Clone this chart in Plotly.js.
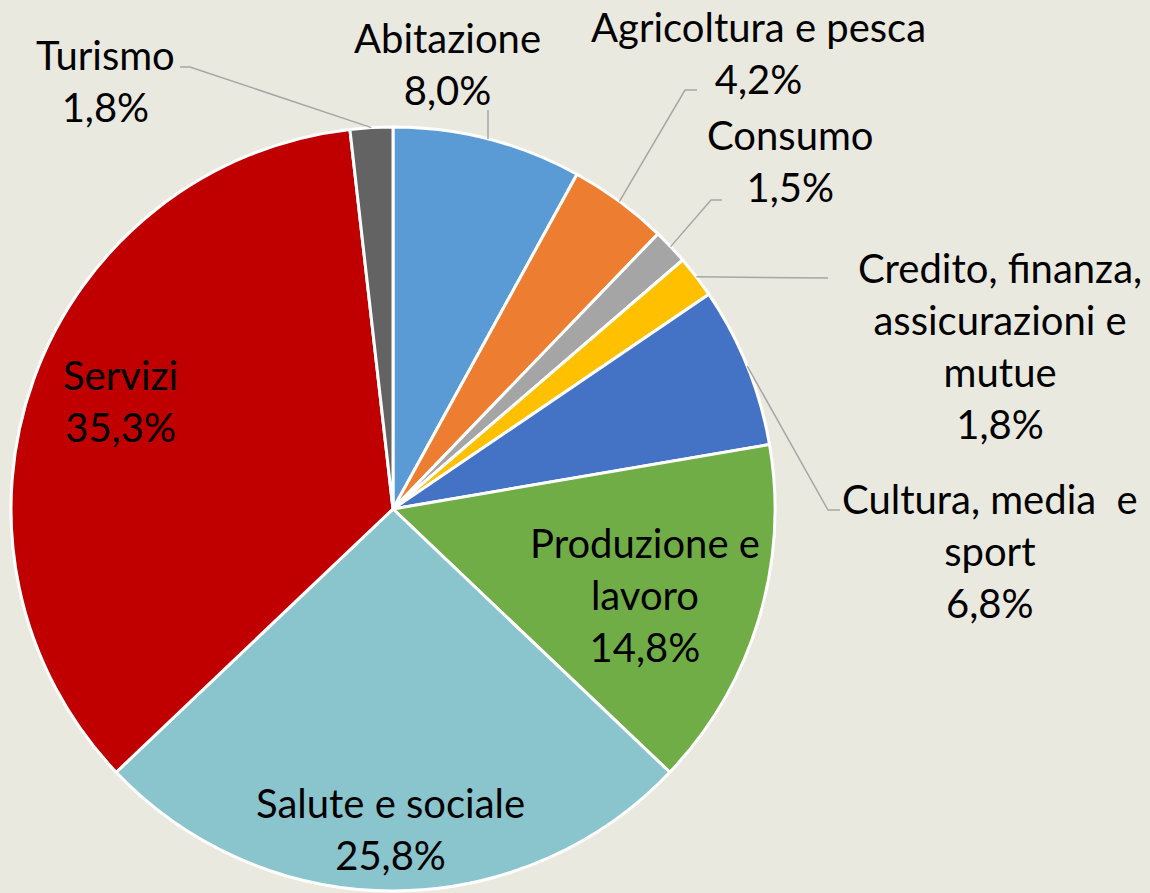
<!DOCTYPE html>
<html>
<head>
<meta charset="utf-8">
<script src="https://cdn.plot.ly/plotly-3.0.1.min.js"></script>
<style>html,body{margin:0;padding:0;background:#EAE9DF;}</style>
</head>
<body>
<div id="chart" style="width:1150px;height:893px;"></div>
<script>
// ---- data ----
const categories = ["Abitazione", "Agricoltura e pesca", "Consumo",
  "Credito, finanza, assicurazioni e mutue", "Cultura, media  e sport",
  "Produzione e lavoro", "Salute e sociale", "Servizi", "Turismo"];
const displayLabels = ["Abitazione", "Agricoltura e pesca", "Consumo",
  "Credito, finanza,<br>assicurazioni e<br>mutue", "Cultura, media  e<br>sport",
  "Produzione e<br>lavoro", "Salute e sociale", "Servizi", "Turismo"];
const shares = [8.0, 4.2, 1.5, 1.8, 6.8, 14.8, 25.8, 35.3, 1.8];
const colors = ["#5B9BD5", "#ED7D31", "#A5A5A5", "#FFC000", "#4472C4",
  "#70AD47", "#8AC5CE", "#C00000", "#636363"];

// ---- layout / style ----
const W = 1150, H = 893;
const CX = 393, CY = 509, R = 382;
// label centre positions (px) and leader line elbow (px); null = inside label
const labelPos = [
  {x: 447, y: 64, elbow: [488, 110]},
  {x: 758, y: 53, elbow: [697, 90, 685, 90]},
  {x: 790, y: 161, elbow: [722, 200, 711, 200]},
  {x: 1000, y: 346, elbow: [828, 278]},
  {x: 990, y: 551, elbow: [840, 510, 828, 510]},
  {x: 645, y: 595, elbow: null},
  {x: 390, y: 829, elbow: null},
  {x: 120, y: 401, elbow: null},
  {x: 105, y: 81, elbow: [180, 67, 190, 67]}
];
const px = x => x / W, py = y => 1 - y / H;
const total = shares.reduce((a, b) => a + b, 0);

const annotations = [], shapes = [];
let cum = 0;
shares.forEach((v, i) => {
  const mid = (cum + v / 2) / total * 2 * Math.PI;
  cum += v;
  const lp = labelPos[i];
  const txt = displayLabels[i] + "<br>" + v.toFixed(1).replace(".", ",") + "%";
  annotations.push({
    x: px(lp.x), y: py(lp.y), xref: "paper", yref: "paper",
    text: txt, showarrow: false, xanchor: "center", yanchor: "middle",
    align: "center", font: {family: "Lato, 'Liberation Sans', sans-serif", size: 40, color: "#000"}
  });
  if (lp.elbow) {
    const ex = CX + R * Math.sin(mid), ey = CY - R * Math.cos(mid);
    const pts = [];
    for (let k = 0; k < lp.elbow.length; k += 2) pts.push([lp.elbow[k], lp.elbow[k + 1]]);
    pts.push([ex, ey]);
    const path = pts.map((p, k) => (k ? "L" : "M") + px(p[0]) + "," + py(p[1])).join(" ");
    shapes.push({type: "path", xref: "paper", yref: "paper", path: path,
      line: {color: "#A6A6A6", width: 1.5}});
  }
});

const trace = {
  type: "pie",
  labels: categories,
  values: shares,
  sort: false,
  direction: "clockwise",
  rotation: 0,
  textinfo: "none",
  hoverinfo: "label+percent",
  marker: {colors: colors, line: {color: "#FFFFFF", width: 3}},
  domain: {x: [(CX - R) / W, (CX + R) / W], y: [1 - (CY + R) / H, 1 - (CY - R) / H]},
  showlegend: false
};

const layout = {
  width: W, height: H,
  margin: {l: 0, r: 0, t: 0, b: 0},
  paper_bgcolor: "#EAE9DF",
  plot_bgcolor: "#EAE9DF",
  showlegend: false,
  annotations: annotations,
  shapes: shapes
};

Plotly.newPlot("chart", [trace], layout, {displayModeBar: false, staticPlot: true});
</script>
</body>
</html>
